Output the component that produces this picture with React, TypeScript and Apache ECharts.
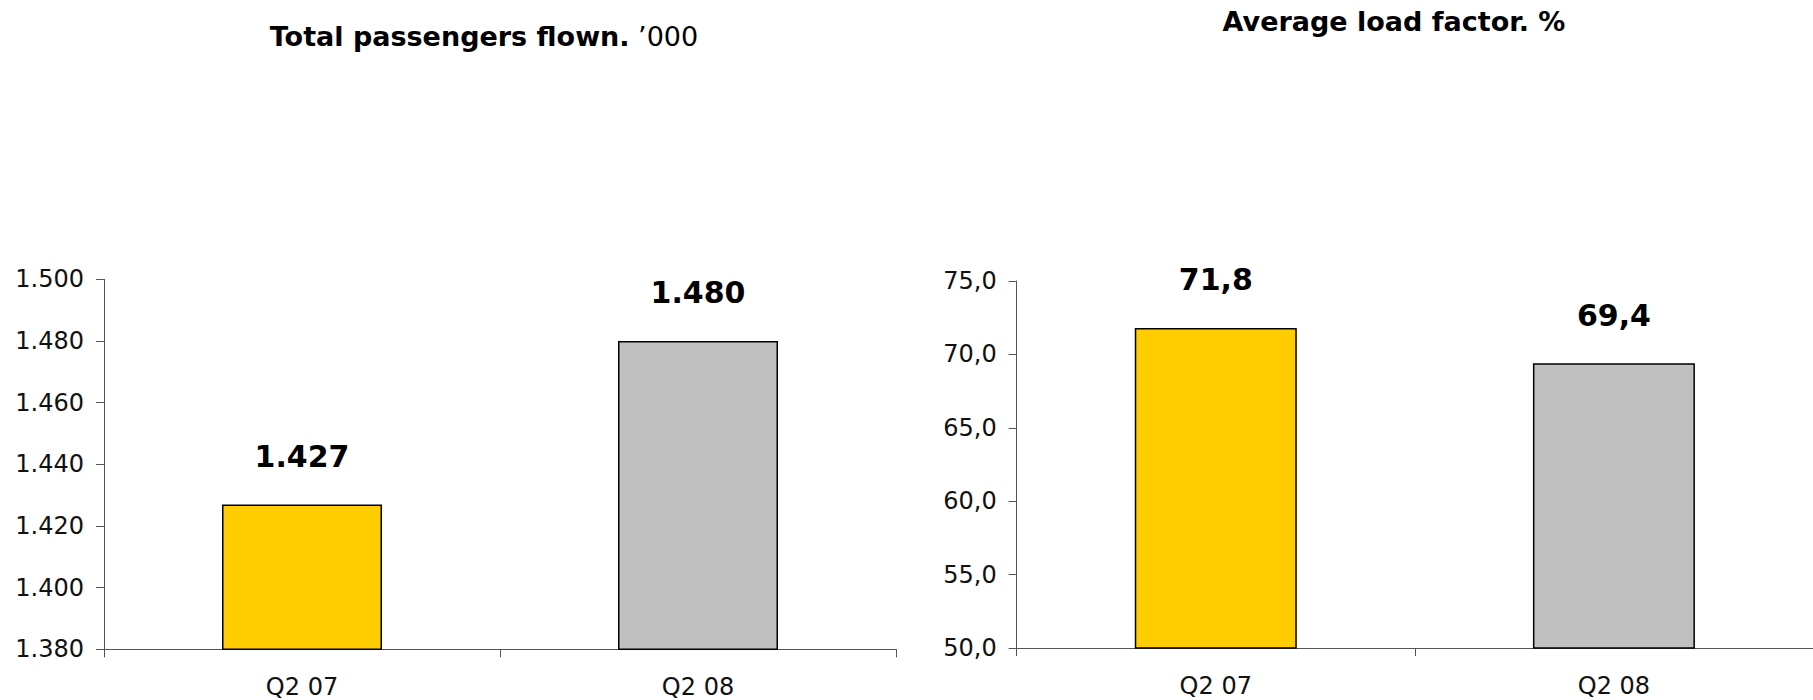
import React, { useEffect, useRef } from "react";
import * as echarts from "echarts";

const categories = ["Q2 07", "Q2 08"];
const passengers = [1427, 1480];
const loadFactor = [71.8, 69.4];
const barColors = ["#FFCC00", "#C0C0C0"];
const title1Bold = "Total passengers flown.";
const title1Normal = " ’000";
const title2 = "Average load factor. %";

const FONT = "'DejaVu Sans', Verdana, sans-serif";

const fmtThousands = (v: number) => {
  const s = Math.round(v).toString();
  return s.replace(/\B(?=(\d{3})+(?!\d))/g, ".");
};
const fmtComma = (v: number) => v.toFixed(1).replace(".", ",");

export default function App() {
  const ref = useRef<HTMLDivElement>(null);
  useEffect(() => {
    document.body.style.margin = "0";
    document.body.style.overflow = "hidden";
    const chart = echarts.init(ref.current!, undefined, { renderer: "svg" });
    const axisLine = { show: true, lineStyle: { color: "#555", width: 1 } };
    const axisTick = { show: true, length: 8, lineStyle: { color: "#555", width: 1 } };
    const yLabel = { color: "#111", fontSize: 24, fontFamily: FONT, margin: 20 };
    const xLabel = { color: "#111", fontSize: 24, fontFamily: FONT, margin: 26 };
    const mkData = (vals: number[]) =>
      vals.map((v, i) => ({
        value: v,
        itemStyle: { color: barColors[i], borderColor: "#000", borderWidth: 1.5 },
      }));
    const dataLabel = (fmt: (v: number) => string) => ({
      show: true,
      position: "top",
      distance: 33,
      fontSize: 30,
      fontWeight: "bold",
      fontFamily: FONT,
      color: "#000",
      formatter: (p: any) => fmt(p.value),
    });
    chart.setOption({
      animation: false,
      backgroundColor: "#fff",
      title: [
        {
          text: `{b|${title1Bold}}{n|${title1Normal}}`,
          left: 484,
          top: 23,
          textAlign: "center",
          padding: 0,
          textStyle: {
            rich: {
              b: { fontSize: 27, fontWeight: "bold", fontFamily: FONT, color: "#000" },
              n: { fontSize: 27, fontWeight: "normal", fontFamily: FONT, color: "#000" },
            },
          },
        },
        {
          text: title2,
          left: 1394,
          top: 8,
          textAlign: "center",
          padding: 0,
          textStyle: { fontSize: 27, fontWeight: "bold", fontFamily: FONT, color: "#000" },
        },
      ],
      grid: [
        { left: 104, top: 279.3, width: 792, height: 370 },
        { left: 1016.7, top: 281, width: 803.3, height: 367 },
      ],
      xAxis: [
        {
          type: "category",
          gridIndex: 0,
          data: categories,
          axisLine,
          axisTick,
          axisLabel: xLabel,
          splitLine: { show: false },
        },
        {
          type: "category",
          gridIndex: 1,
          data: categories,
          axisLine,
          axisTick,
          axisLabel: xLabel,
          splitLine: { show: false },
        },
      ],
      yAxis: [
        {
          type: "value",
          gridIndex: 0,
          min: 1380,
          max: 1500,
          interval: 20,
          axisLine,
          axisTick,
          axisLabel: { ...yLabel, formatter: (v: number) => fmtThousands(v) },
          splitLine: { show: false },
        },
        {
          type: "value",
          gridIndex: 1,
          min: 50,
          max: 75,
          interval: 5,
          axisLine,
          axisTick,
          axisLabel: { ...yLabel, formatter: (v: number) => fmtComma(v) },
          splitLine: { show: false },
        },
      ],
      series: [
        {
          type: "bar",
          xAxisIndex: 0,
          yAxisIndex: 0,
          barWidth: 160,
          data: mkData(passengers),
          label: dataLabel(fmtThousands),
        },
        {
          type: "bar",
          xAxisIndex: 1,
          yAxisIndex: 1,
          barWidth: 162,
          data: mkData(loadFactor),
          label: dataLabel(fmtComma),
        },
      ],
    });
    return () => chart.dispose();
  }, []);
  return (
    <div
      ref={ref}
      style={{ position: "fixed", left: 0, top: 0, width: 1813, height: 700 }}
    />
  );
}
